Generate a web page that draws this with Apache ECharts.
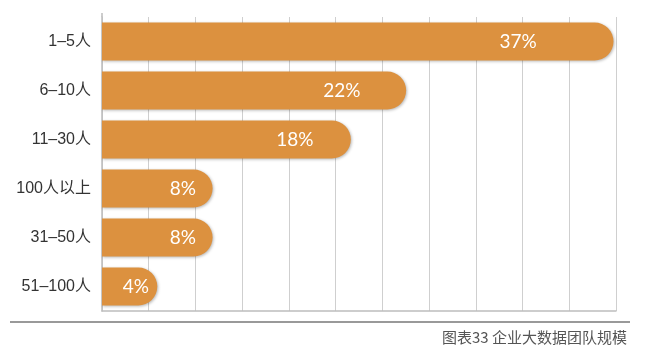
<!DOCTYPE html>
<html>
<head>
<meta charset="utf-8">
<script src="https://cdn.jsdelivr.net/npm/echarts@6/dist/echarts.min.js"></script>
<style>
html,body{margin:0;padding:0;background:#fff;}
#chart{width:656px;height:356px;}
</style>
</head>
<body>
<div id="chart"></div>
<script>
const categories = ['1–5人', '6–10人', '11–30人', '100人以上', '31–50人', '51–100人'];
const values = [37, 22, 18, 8, 8, 4];
const caption = '图表33 企业大数据团队规模';

const chart = echarts.init(document.getElementById('chart'));
chart.setOption({
  animation: false,
  backgroundColor: '#ffffff',
  grid: { left: 102, right: 40, top: 17, bottom: 45 },
  xAxis: {
    type: 'value',
    min: 0,
    max: 37.18,
    interval: 3.38,
    axisLabel: { show: false },
    axisTick: { show: false },
    axisLine: { show: true, lineStyle: { color: '#bdbdbd', width: 1.5 } },
    splitLine: { show: true, lineStyle: { color: '#cfcfcf', width: 1 } }
  },
  yAxis: {
    type: 'category',
    data: categories,
    inverse: true,
    axisTick: { show: false },
    axisLine: { show: true, lineStyle: { color: '#bdbdbd', width: 1.5 } },
    axisLabel: {
      color: '#333',
      fontSize: 16,
      margin: 11,
      fontFamily: '"Liberation Sans", "Noto Sans CJK SC", sans-serif'
    }
  },
  series: [{
    type: 'bar',
    data: values,
    barWidth: 38,
    itemStyle: {
      color: '#DC913F',
      borderRadius: [0, 19, 19, 0],
      shadowColor: 'rgba(0,0,0,0.28)',
      shadowBlur: 3,
      shadowOffsetX: 1,
      shadowOffsetY: 1
    },
    label: {
      show: true,
      position: ['85%', '50%'],
      align: 'right',
      verticalAlign: 'middle',
      color: '#ffffff',
      fontSize: 19,
      fontFamily: 'Lato, "Open Sans", sans-serif',
      formatter: '{c}%'
    }
  }],
  graphic: [
    {
      type: 'line',
      shape: { x1: 102, y1: 13, x2: 102, y2: 17 },
      style: { stroke: '#bdbdbd', lineWidth: 1.5 }
    },
    {
      type: 'line',
      shape: { x1: 10, y1: 322, x2: 630, y2: 322 },
      style: { stroke: '#777', lineWidth: 1.5 }
    },
    {
      type: 'text',
      right: 29,
      top: 330,
      style: {
        text: caption,
        fill: '#555',
        fontSize: 15,
        fontFamily: '"Noto Sans CJK SC", sans-serif'
      }
    }
  ]
});
</script>
</body>
</html>
